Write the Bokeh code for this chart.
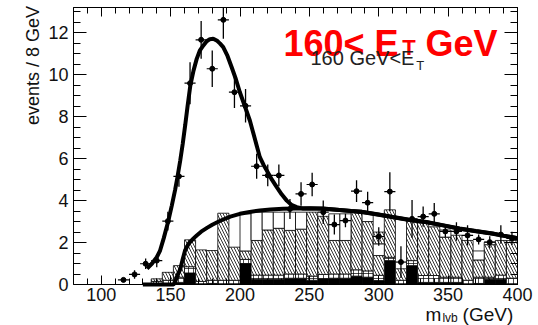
import numpy as np
from bokeh.plotting import figure
from bokeh.models import Label, LinearAxis, FixedTicker, Range1d, ColumnDataSource
from bokeh.embed import file_html
from bokeh.resources import INLINE

# ---------------- data ----------------
bin_width = 8
data_x = [116, 124, 132, 140, 148, 156, 164, 172, 180, 188, 196, 204, 212, 220, 228, 236,
          244, 252, 260, 268, 276, 284, 292, 300, 308, 316, 324, 332, 340, 348, 356, 364,
          372, 380, 388, 396]
data_y = [0.22, 0.48, 0.99, 1.14, 3.02, 5.16, 9.6, 11.67, 10.29, 12.62, 9.17, 8.52, 5.64, 5.2,
          5.2, 3.6, 4.32, 4.77, 3.45, 2.86, 3.05, 4.45, 3.9, 2.29, 4.43, 1.07, 3.13, 3.24, 3.37,
          2.53, 2.53, 2.34, 2.15, 2.02, 2.38, 2.2]
data_err = [0.1, 0.2, 0.25, 0.32, 0.45, 0.5, 1.0, 0.9, 0.87, 0.9, 0.75, 0.8, 0.6, 0.52, 0.52,
            0.48, 0.56, 0.56, 0.56, 0.48, 0.32, 0.52, 0.52, 0.44, 0.92, 0.76, 0.9, 0.48, 0.52,
            0.28, 0.44, 0.48, 0.24, 0.28, 0.44, 0.32]

hist_lo = [112, 120, 128, 136, 144, 152, 160, 168, 176, 184, 192, 200, 208, 216, 224, 232,
           240, 248, 256, 264, 272, 280, 288, 296, 304, 312, 320, 328, 336, 344, 352, 360,
           368, 376, 384, 392]
comp_black = [0, 0, 0, 0, 0, 0.1, 0.55, 0, 0.05, 0, 0, 1.0, 0.25, 0.25, 0.25, 0.3, 0.3, 0.2,
              0.28, 0.3, 0.3, 0.4, 0.35, 0.19, 1.14, 0, 0.9, 0.1, 0.1, 0.1, 0.1, 0, 0.05, 0.25,
              0.25, 0]
comp_brick = [0, 0, 0, 0.15, 0.2, 0.25, 0.3, 0.15, 0.15, 0.2, 0.2, 0.2, 0.2, 0.2, 0.2, 0.2,
              0.2, 0.2, 0.2, 0.2, 0.2, 0.3, 0.3, 0.25, 0.16, 0.2, 0.24, 0.33, 0.33, 0.25, 0.25,
              0.2, 0.3, 0.1, 0.2, 0.3]
comp_main = [0, 0, 0, 0.12, 0.38, 0.55, 1.28, 1.5, 1.42, 3.2, 1.58, 0.4, 1.65, 2.15, 2.23, 2.08,
             2.14, 3.05, 2.77, 1.6, 1.6, 2.85, 2.35, 0.94, 2.26, 0.55, 1.96, 2.52, 2.32, 1.91,
             2.0, 1.9, 0.82, 1.55, 1.65, 1.8]
comp_white = [0, 0, 0, 0, 0, 0, 0, 0, 0, 0, 0, 1.77, 1.35, 0.85, 0.77, 0.87, 0.81, 0, 0, 1.27,
              1.27, 0, 0.4, 0.56, 0, 0, 0, 0, 0, 0.34, 0, 0, 0.43, 0.12, 0, 0]
comp_top = [0, 0, 0, 0, 0, 0, 0, 0, 0, 0, 0, 0, 0, 0, 0, 0, 0, 0, 0, 0, 0, 0, 0, 0.56, 0, 0,
            0, 0, 0, 0, 0, 0, 0, 0, 0, 0]

fit_total_x = [133, 136.6, 140, 142.4, 145, 148.3, 150.8, 153.2, 155, 156.9, 158.7, 160.5,
               162.3, 164.2, 166.5, 168.8, 171, 173.6, 176, 178.3, 180.7, 183.5, 185.5, 187.9,
               191, 194, 197, 199.9, 203.5, 207.1, 210.7, 214.3, 217, 219.3, 223, 226.5, 230,
               233.7, 237, 240.9, 245, 250.5, 260, 269.7, 280, 288.8, 300, 310.4, 322, 334.4,
               346, 358.2, 370, 382.2, 390, 397.8, 400]
fit_total_y = [0.76, 1.0, 1.3, 1.62, 2.2, 3.02, 3.75, 4.5, 5.15, 5.9, 6.7, 7.6, 8.55, 9.49,
               10.2, 10.76, 11.15, 11.4, 11.6, 11.7, 11.72, 11.62, 11.5, 11.32, 10.9, 10.36,
               9.8, 9.17, 8.5, 7.82, 6.95, 6.07, 5.7, 5.44, 5.0, 4.64, 4.3, 4.0, 3.8, 3.69,
               3.63, 3.62, 3.62, 3.57, 3.51, 3.46, 3.34, 3.22, 3.09, 2.98, 2.83, 2.67, 2.55,
               2.43, 2.33, 2.24, 2.21]
fit_bg_x = [130, 152, 153.2, 155, 156.9, 158.5, 160.4, 163, 166.5, 168.8, 172, 176.2, 180,
            184.3, 187.9, 193, 199.9, 207, 214.3, 222, 231, 240, 250.5, 260, 269.7, 280, 288.8,
            300, 310.4, 322, 334.4, 346, 358.2, 370, 382.2, 390, 397.8, 400]
fit_bg_y = [0, 0, 0.11, 0.45, 0.72, 1.15, 1.62, 1.95, 2.2, 2.34, 2.52, 2.7, 2.85, 2.99, 3.1,
            3.24, 3.37, 3.46, 3.53, 3.58, 3.61, 3.63, 3.64, 3.61, 3.56, 3.5, 3.45, 3.33, 3.21,
            3.08, 2.97, 2.82, 2.66, 2.54, 2.42, 2.32, 2.23, 2.2]

# axis extents and ticks
x_min, x_max = 80, 400
y_min, y_max = 0, 13.21
x_major = [100, 150, 200, 250, 300, 350, 400]
x_minor = [80, 90, 110, 120, 130, 140, 160, 170, 180, 190, 210, 220, 230, 240, 260, 270, 280,
           290, 310, 320, 330, 340, 360, 370, 380, 390]
y_major = [0, 2, 4, 6, 8, 10, 12]
y_minor = [0.5, 1, 1.5, 2.5, 3, 3.5, 4.5, 5, 5.5, 6.5, 7, 7.5, 8.5, 9, 9.5, 10.5, 11, 11.5,
           12.5, 13]

# ---------------- figure (frame = whole canvas, axes at fixed locations) ----------------
FONT = "Liberation Sans"
W, H = 538, 325
px_left, px_right = 73, 517          # screen position of x_min / x_max
py_top, py_bottom = 7, 284           # screen position of y_max / y_min
sx = (px_right - px_left) / (x_max - x_min)
sy = (py_bottom - py_top) / (y_max - y_min)
xr = Range1d(x_min - px_left / sx, x_min + (W - px_left) / sx)
yr = Range1d(y_min - (H - py_bottom) / sy, y_min + py_bottom / sy)

p = figure(width=W, height=H, x_range=xr, y_range=yr, output_backend="svg",
           toolbar_location=None, min_border=0, min_border_left=0, min_border_right=0,
           min_border_top=0, min_border_bottom=0)
p.grid.visible = False
p.outline_line_color = None
p.background_fill_color = "white"
p.border_fill_color = "white"

xa = p.xaxis[0]
xa.ticker = FixedTicker(ticks=x_major, minor_ticks=x_minor)
xa.fixed_location = y_min
xa.bounds = (x_min, x_max)
xa.major_tick_in = 9; xa.major_tick_out = 0
xa.minor_tick_in = 6; xa.minor_tick_out = 0
xa.major_label_text_font = FONT
xa.major_label_text_font_size = "18px"
xa.major_label_text_color = "#111111"
xa.major_label_standoff = 3
xa.axis_line_color = "black"

ya = p.yaxis[0]
ya.ticker = FixedTicker(ticks=y_major, minor_ticks=y_minor)
ya.fixed_location = x_min
ya.bounds = (y_min, y_max)
ya.major_tick_in = 13; ya.major_tick_out = 0
ya.minor_tick_in = 7; ya.minor_tick_out = 0
ya.major_label_text_font = FONT
ya.major_label_text_font_size = "18px"
ya.major_label_text_color = "#111111"
ya.major_label_standoff = 5
ya.axis_line_color = "black"

# mirrored axes (ticks only): majors and minors given as minor ticks -> no labels
top_major = LinearAxis(ticker=FixedTicker(ticks=[], minor_ticks=x_major), fixed_location=y_max,
                       bounds=(x_min, x_max), minor_tick_in=9, minor_tick_out=0,
                       major_tick_in=0, major_tick_out=0)
top_minor = LinearAxis(ticker=FixedTicker(ticks=[], minor_ticks=x_minor), fixed_location=y_max,
                       bounds=(x_min, x_max), minor_tick_in=6, minor_tick_out=0,
                       major_tick_in=0, major_tick_out=0)
right_major = LinearAxis(ticker=FixedTicker(ticks=[], minor_ticks=y_major), fixed_location=x_max,
                         bounds=(y_min, y_max), minor_tick_in=13, minor_tick_out=0,
                         major_tick_in=0, major_tick_out=0)
right_minor = LinearAxis(ticker=FixedTicker(ticks=[], minor_ticks=y_minor), fixed_location=x_max,
                         bounds=(y_min, y_max), minor_tick_in=7, minor_tick_out=0,
                         major_tick_in=0, major_tick_out=0)
p.add_layout(top_major, "above")
p.add_layout(top_minor, "above")
p.add_layout(right_major, "right")
p.add_layout(right_minor, "right")

# ---------------- stacked histogram ----------------
lo = np.array(hist_lo, dtype=float)
hi = lo + bin_width
layers = [
    (comp_black, dict(fill_color="black")),
    (comp_brick, dict(fill_color="white", hatch_pattern="+", hatch_scale=5, hatch_weight=0.7,
                      hatch_color="black")),
    (comp_main, dict(fill_color="white", hatch_pattern="\\", hatch_scale=6, hatch_weight=0.8,
                     hatch_color="black")),
    (comp_white, dict(fill_color="white")),
    (comp_top, dict(fill_color="white", hatch_pattern="\\", hatch_scale=6, hatch_weight=0.8,
                    hatch_color="black")),
]
base = np.zeros(len(lo))
for comp, style in layers:
    h = np.array(comp, dtype=float)
    m = h > 0
    src = ColumnDataSource(dict(left=lo[m], right=hi[m], bottom=base[m], top=(base + h)[m]))
    p.quad(left="left", right="right", bottom="bottom", top="top", source=src,
           line_color="black", line_width=0.8, **style)
    base = base + h

# ---------------- fit curves ----------------
p.line(fit_bg_x, fit_bg_y, line_color="black", line_width=4)
p.line(fit_total_x, fit_total_y, line_color="black", line_width=4)

# ---------------- data points ----------------
dx = np.array(data_x, dtype=float)
dy = np.array(data_y, dtype=float)
de = np.array(data_err, dtype=float)
p.segment(dx, dy - de, dx, np.minimum(dy + de, y_max), line_color="black", line_width=1.3)
p.segment(dx - bin_width / 2, dy, dx + bin_width / 2, dy, line_color="black", line_width=1.2)
p.scatter(dx, dy, size=5, marker="circle", fill_color="black", line_color="black")

# ---------------- texts ----------------
red = "#ff0000"
p.add_layout(Label(x=231.35, y=11.49, text="160< E", text_color=red, text_font=FONT,
                   text_font_size="36px", text_font_style="bold", text_baseline="alphabetic"))
p.add_layout(Label(x=316.9, y=11.3, text="T", text_color=red, text_font=FONT,
                   text_font_size="22px", text_font_style="bold", text_baseline="alphabetic"))
p.add_layout(Label(x=333.7, y=11.49, text="GeV", text_color=red, text_font=FONT,
                   text_font_size="36px", text_font_style="bold", text_baseline="alphabetic"))

p.add_layout(Label(x=250.8, y=10.81, text="160 GeV<E", text_color="#222222", text_font=FONT,
                   text_font_size="20px", text_baseline="alphabetic"))
p.add_layout(Label(x=327.0, y=10.44, text="T", text_color="#222222", text_font=FONT,
                   text_font_size="13px", text_baseline="alphabetic"))

# axis titles
p.add_layout(Label(x=51.17, y=13.28, text="events / 8 GeV", angle=np.pi / 2, text_align="right",
                   text_baseline="alphabetic", text_font=FONT, text_font_size="18px",
                   text_color="#111111"))
p.add_layout(Label(x=333.7, y=-1.42, text="m", text_font=FONT, text_font_size="19px",
                   text_baseline="alphabetic", text_color="#111111"))
p.add_layout(Label(x=345.9, y=-1.60, text="lvb", text_font=FONT, text_font_size="12px",
                   text_baseline="alphabetic", text_color="#111111"))
p.add_layout(Label(x=360.4, y=-1.42, text="(GeV)", text_font=FONT, text_font_size="19px",
                   text_baseline="alphabetic", text_color="#111111"))

open("out.html", "w").write(file_html(p, INLINE))
